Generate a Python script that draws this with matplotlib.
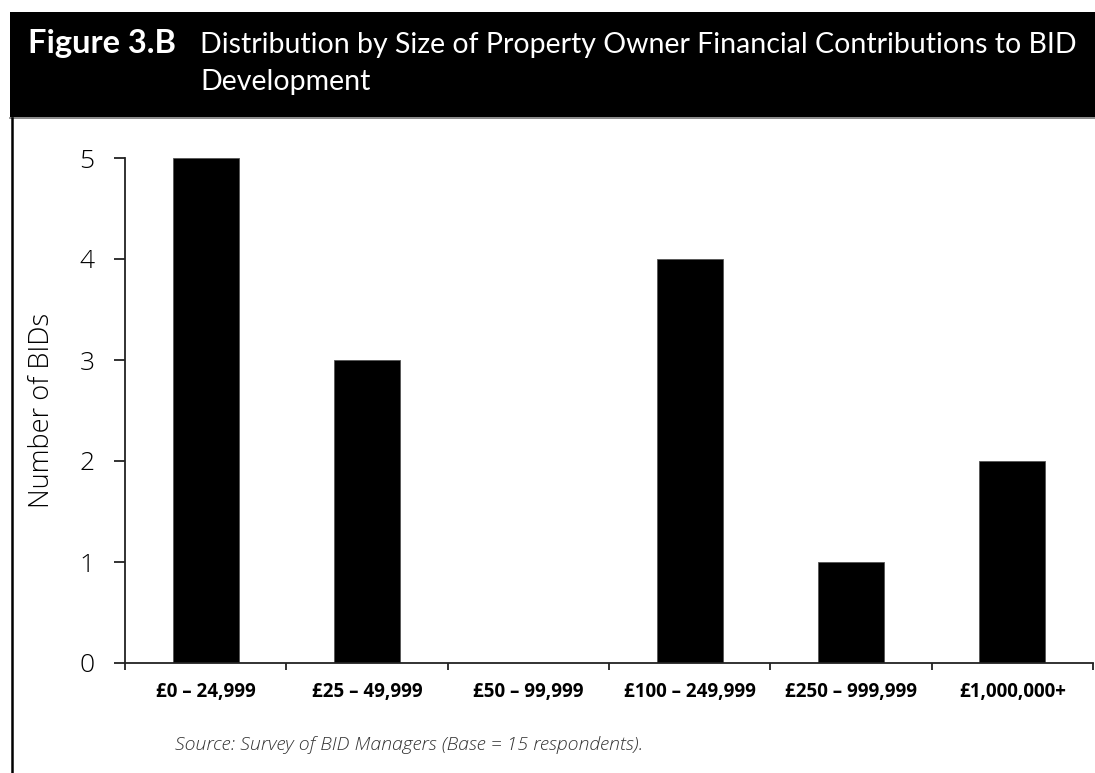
import matplotlib.pyplot as plt
from matplotlib.patches import Rectangle
from matplotlib.lines import Line2D

# contribution size bands and number of BIDs in each
bands = ['£0 – 24,999', '£25 – 49,999', '£50 – 99,999',
         '£100 – 249,999', '£250 – 999,999', '£1,000,000+']
n_bids = [5, 3, 0, 4, 1, 2]
y_ticks = [0, 1, 2, 3, 4, 5]

W, H = 1095, 773
fig = plt.figure(figsize=(W / 100, H / 100), dpi=100, facecolor='w')

# black title band across the top
fig.patches.append(Rectangle((10 / W, 1 - 117 / H), 1 - 10 / W, 105 / H,
                             transform=fig.transFigure, facecolor='black',
                             edgecolor='none', zorder=0))
fig.lines.append(Line2D([10 / W, 1], [1 - 118 / H, 1 - 118 / H],
                        transform=fig.transFigure, color='#777777', lw=1.2))
fig.lines.append(Line2D([11.5 / W, 11.5 / W], [0, 1 - 118 / H],
                        transform=fig.transFigure, color='black', lw=1.8))

title_font = ['Lato', 'DejaVu Sans']
fig.text(28 / W, 1 - 53 / H, 'Figure 3.B', color='white', fontsize=23.5,
         fontweight='bold', family=title_font, va='baseline')
fig.text(200 / W, 1 - 53 / H,
         'Distribution by Size of Property Owner Financial Contributions to BID',
         color='white', fontsize=20.5, family=title_font, va='baseline')
fig.text(200 / W, 1 - 90 / H, 'Development', color='white', fontsize=20.5,
         family=title_font, va='baseline')

# plot area
ax = fig.add_axes([125 / W, 1 - 663 / H, 968 / W, 505 / H])
x = list(range(len(bands)))
ax.bar(x, n_bids, width=0.41, color='black', edgecolor='#555555', lw=0.6)
ax.set_xlim(-0.5, len(bands) - 0.5)
ax.set_ylim(0, 5)

ax.spines['top'].set_visible(False)
ax.spines['right'].set_visible(False)
ax.spines['left'].set_color('#222222')
ax.spines['bottom'].set_color('#222222')
ax.spines['left'].set_linewidth(1.3)
ax.spines['bottom'].set_linewidth(1.3)

ax.set_yticks(y_ticks)
ax.set_yticklabels([str(v) for v in y_ticks], fontsize=19, family='Open Sans',
                   fontweight='light')
ax.tick_params(axis='y', length=8, width=1.3, pad=14, color='#222222')

# ticks between the categories, labels at the centres
ax.set_xticks([i - 0.5 for i in range(len(bands) + 1)])
ax.set_xticklabels([])
ax.set_xticks(x, minor=True)
ax.set_xticklabels(bands, minor=True, fontsize=13.5, fontweight='bold',
                   family='Open Sans')
ax.tick_params(axis='x', which='major', length=5, width=1.3, color='#222222')
ax.tick_params(axis='x', which='minor', length=0, pad=14)

ax.set_ylabel('Number of BIDs', fontsize=19.5, family='Open Sans',
              fontweight='light', labelpad=17)

fig.text(175 / W, 1 - 745 / H,
         'Source: Survey of BID Managers (Base = 15 respondents).',
         fontsize=14, style='italic', family='Open Sans', fontweight='light',
         color='#333333', va='center')

fig.savefig('out.png', dpi=100, facecolor='w')
